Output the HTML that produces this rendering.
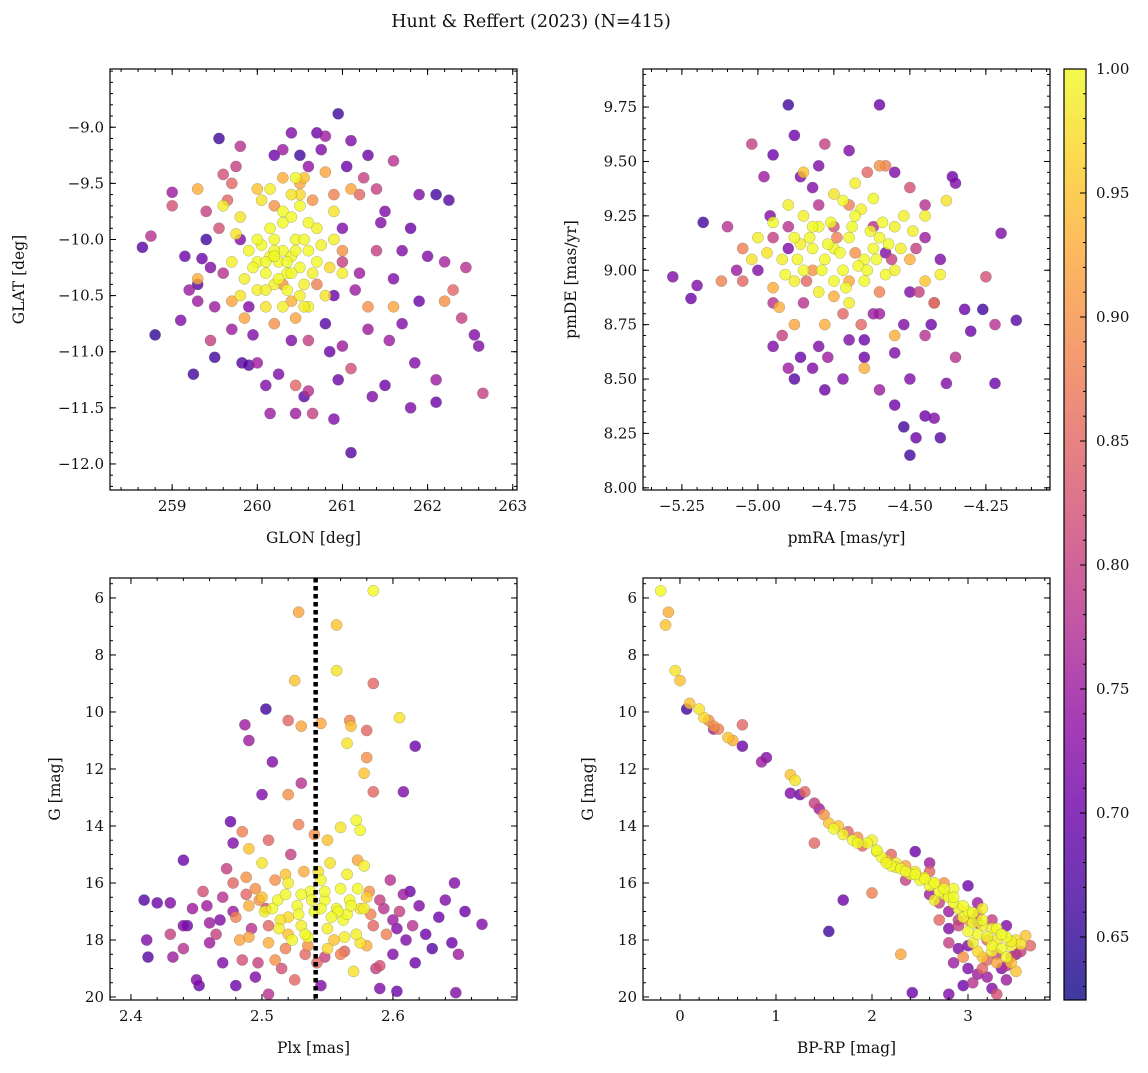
<!DOCTYPE html>
<html><head><meta charset="utf-8"><style>
html,body{margin:0;padding:0;background:#fff;}
svg text{font-family:"DejaVu Serif","Liberation Serif",serif;fill:#111;}
</style></head><body>
<svg id="fig" width="1148" height="1068" viewBox="0 0 1148 1068" xmlns="http://www.w3.org/2000/svg">
<text x="531" y="27" font-size="17.5" text-anchor="middle">Hunt &amp; Reffert (2023) (N=415)</text>
</svg>
<script>
// ---- Panel 1: GLON / GLAT / probability ----
const glon=[258.65,258.75,258.8,259.0,259.0,259.1,259.25,259.3,259.35,259.4,259.5,259.55,259.6,259.7,259.8,259.82,259.9,260.1,260.15,260.0,260.2,260.4,260.5,260.6,260.7,260.8,260.95,261.1,261.3,261.2,261.4,261.6,261.5,261.7,261.8,261.9,262.1,262.25,262.0,262.2,262.3,262.4,262.55,262.6,262.65,262.1,262.1,261.8,261.5,261.35,261.1,261.1,260.9,260.65,260.55,260.45,260.45,261.6,261.9,261.7,261.3,261.0,260.8,260.9,261.2,261.4,259.9,259.7,259.5,259.45,259.3,259.6,259.8,260.4,260.6,259.55,261.0,261.0,
259.3,259.3,259.7,259.85,260.0,260.2,260.3,260.5,260.65,260.8,260.9,261.1,261.0,260.7,260.2,260.45,261.3,261.6,262.2,260.4,260.3,260.55,
259.6,259.8,259.9,260.0,260.05,260.1,260.15,260.2,260.25,260.3,260.35,260.4,260.45,260.5,260.55,260.6,260.7,260.2,260.0,259.85,260.3,260.5,260.7,260.9,261.0,260.4,260.15,259.7,260.8,260.6,260.3,260.1,260.45,260.9,
259.2,259.4,259.65,259.95,260.6,260.85,261.15,261.45,261.25,261.05,260.75,260.3,259.75,259.45,259.15,261.55,261.85,262.45,260.95,260.25,
259.95,260.1,260.2,260.35,260.45,260.55,260.65,260.0,260.25,260.4,260.5,260.15,260.3,259.8,260.6,260.75,260.05,260.35,260.85,260.2,259.75,260.5,260.4,260.1,260.55];
const glat=[-10.07,-9.97,-10.85,-9.58,-9.7,-10.72,-11.2,-10.4,-10.17,-10.0,-11.05,-9.1,-9.42,-9.5,-9.17,-11.1,-11.12,-11.3,-11.55,-11.1,-9.25,-9.05,-9.25,-9.35,-9.05,-9.08,-8.88,-9.12,-9.25,-9.6,-9.55,-9.3,-9.75,-10.1,-9.9,-9.6,-9.6,-9.65,-10.15,-10.2,-10.45,-10.7,-10.85,-10.95,-11.37,-11.25,-11.45,-11.5,-11.3,-11.4,-11.9,-11.15,-11.6,-11.55,-11.4,-11.3,-11.55,-10.35,-10.55,-10.75,-10.8,-10.95,-10.75,-10.5,-10.3,-10.1,-10.6,-10.8,-10.6,-10.9,-10.55,-10.3,-10.0,-10.9,-10.9,-9.9,-10.2,-9.9,
-9.55,-10.35,-10.55,-10.7,-9.55,-9.7,-9.45,-9.5,-9.65,-9.4,-9.6,-9.55,-10.1,-10.4,-10.75,-10.7,-10.6,-10.6,-10.55,-10.55,-10.4,-9.45,
-9.7,-9.8,-10.1,-10.2,-10.05,-10.3,-10.15,-10.0,-10.2,-10.1,-10.3,-10.15,-10.0,-10.25,-10.4,-10.1,-10.2,-10.4,-10.45,-10.35,-9.85,-9.7,-9.9,-9.75,-10.3,-9.6,-9.55,-10.2,-10.5,-10.6,-10.6,-10.6,-9.45,-10.0,
-10.45,-9.75,-9.65,-10.85,-11.35,-11.0,-10.45,-9.85,-9.45,-9.35,-9.2,-9.2,-9.35,-10.25,-10.15,-10.9,-11.1,-10.25,-11.25,-11.2,
-10.25,-10.2,-10.1,-10.2,-10.1,-10.0,-10.3,-10.0,-10.35,-10.3,-10.5,-9.9,-9.75,-10.5,-9.85,-10.05,-9.65,-10.45,-10.25,-10.15,-9.95,-9.6,-9.8,-10.45,-10.6];
const prob1=[0.68,0.78,0.65,0.75,0.82,0.72,0.66,0.68,0.7,0.66,0.66,0.66,0.82,0.85,0.78,0.68,0.68,0.72,0.75,0.75,0.7,0.72,0.66,0.74,0.7,0.75,0.66,0.72,0.7,0.85,0.8,0.78,0.72,0.72,0.7,0.72,0.66,0.68,0.72,0.76,0.85,0.8,0.72,0.72,0.8,0.75,0.7,0.72,0.7,0.72,0.68,0.82,0.72,0.8,0.68,0.85,0.75,0.72,0.7,0.72,0.75,0.75,0.68,0.7,0.75,0.8,0.72,0.75,0.75,0.8,0.75,0.78,0.72,0.72,0.8,0.82,0.8,0.72,
0.93,0.93,0.92,0.92,0.95,0.9,0.93,0.92,0.9,0.92,0.88,0.92,0.9,0.88,0.9,0.92,0.9,0.92,0.9,0.93,0.9,0.95,
0.99,0.98,1,1,1,1,1,1,1,1,1,1,1,1,0.99,1,1,0.99,0.99,0.99,1,1,0.99,0.98,0.99,0.98,0.99,0.99,0.98,0.99,0.99,0.98,1,0.99,
0.75,0.8,0.85,0.72,0.78,0.7,0.75,0.72,0.8,0.7,0.72,0.75,0.8,0.72,0.7,0.75,0.72,0.78,0.7,0.72,
1,1,1,1,1,1,0.99,1,1,1,0.99,1,1,0.98,1,0.99,0.98,1,0.97,1,0.98,0.97,1,0.99,0.99];

// ---- Panel 2: pmRA / pmDE / probability ----
const pmra=[-5.28,-5.18,-5.2,-5.22,-5.1,-4.9,-4.88,-4.95,-4.86,-4.98,-5.0,-4.95,-4.9,-4.88,-4.82,-4.78,-4.72,-4.65,-4.6,-4.55,-4.52,-4.5,-4.48,-4.45,-4.42,-4.4,-4.38,-4.35,-4.3,-4.32,-4.26,-4.22,-4.22,-4.15,-4.2,-4.25,-4.35,-4.36,-4.45,-4.5,-4.55,-4.6,-4.7,-4.78,-4.82,-4.8,-5.02,-5.05,-4.95,-4.92,-4.8,-4.6,-4.55,-4.5,-4.45,-4.42,-4.5,-4.4,-4.45,-4.48,-4.7,-4.65,-4.85,-4.9,-4.95,-4.58,-4.62,-4.72,-4.75,-4.8,
-5.12,-5.05,-4.95,-4.93,-4.88,-4.85,-4.78,-4.75,-4.7,-4.65,-4.6,-4.58,-4.55,-4.5,-4.45,-4.42,-4.6,-4.82,-4.7,
-5.0,-4.95,-4.9,-4.92,-4.88,-4.85,-4.82,-4.8,-4.78,-4.75,-4.72,-4.7,-4.68,-4.65,-4.62,-4.6,-4.58,-4.55,-4.52,-4.7,-4.75,-4.65,-4.8,-4.85,-4.75,-4.68,-4.62,-4.45,-4.4,-4.38,-5.02,-4.88,-4.72,-4.55,-4.82,
-4.67,-4.63,-4.77,-4.73,-4.87,-4.57,-4.69,-4.83,-4.61,-4.79,-4.66,-4.91,-4.53,-4.76,-4.64,-4.86,-4.71,-4.59,-4.97,-4.49,
-4.68,-4.74,-4.84,-4.56,-4.9,-4.62,-4.47,-4.52,-4.77,-4.66,-5.07,-4.96,-4.43,-4.64,-4.86];
const pmde=[8.97,9.22,8.93,8.87,9.2,9.76,9.62,9.53,9.43,9.43,9.0,8.85,8.55,8.5,8.55,8.45,8.5,8.6,8.45,8.38,8.28,8.15,8.23,8.33,8.32,8.23,8.48,8.6,8.72,8.82,8.82,8.75,8.48,8.77,9.17,8.97,9.4,9.43,9.3,9.38,9.45,9.76,9.55,9.58,9.38,9.48,9.58,8.95,8.65,8.7,8.65,8.8,8.62,8.5,8.7,8.85,8.9,9.05,9.15,9.1,8.68,8.68,8.85,9.1,9.15,9.08,9.2,8.8,9.2,9.3,
8.95,9.1,8.92,8.83,8.75,9.45,8.75,8.88,8.95,8.55,9.48,9.48,8.7,9.05,8.95,8.85,8.9,9.0,9.3,
9.15,9.22,9.3,9.05,9.15,9.0,9.1,9.2,9.05,9.1,9.0,9.15,9.25,9.05,9.1,9.15,8.98,9.2,9.25,8.85,8.95,8.95,8.9,9.25,9.35,9.4,9.33,9.25,8.98,9.32,9.05,8.95,9.32,9.0,9.2,
9.02,9.18,9.12,9.08,9.05,9.12,9.2,9.15,9.05,9.0,9.28,8.98,9.1,9.22,9.0,9.12,8.92,9.22,9.08,9.18,
9.08,9.15,8.95,9.05,9.2,8.8,8.9,8.75,8.6,8.75,9.0,9.25,8.75,9.45,8.6];
const prob2=[0.72,0.66,0.72,0.7,0.78,0.66,0.7,0.7,0.72,0.75,0.72,0.78,0.75,0.68,0.72,0.7,0.72,0.7,0.75,0.7,0.66,0.66,0.7,0.7,0.72,0.68,0.72,0.78,0.7,0.7,0.66,0.78,0.7,0.68,0.72,0.82,0.72,0.7,0.78,0.82,0.72,0.7,0.72,0.8,0.72,0.72,0.8,0.85,0.72,0.8,0.72,0.75,0.72,0.72,0.78,0.72,0.72,0.72,0.75,0.8,0.72,0.7,0.78,0.72,0.8,0.72,0.78,0.85,0.82,0.78,
0.88,0.88,0.93,0.93,0.92,0.95,0.93,0.93,0.92,0.93,0.9,0.88,0.93,0.93,0.95,0.88,0.88,0.9,0.88,
0.99,1,0.99,0.99,1,1,1,1,1,1,1,1,1,1,1,1,1,0.99,0.99,0.99,1,1,0.99,0.99,0.98,0.99,1,0.99,0.99,0.98,0.98,0.99,1,0.99,1,
1,1,1,1,1,1,1,1,1,1,0.99,1,0.99,1,1,0.99,1,1,0.98,0.99,
0.9,0.88,0.85,0.8,0.78,0.75,0.8,0.72,0.75,0.85,0.75,0.72,0.7,0.85,0.7];

// ---- Panel 3: Plx / G / probability ----
const plx=[2.585,2.528,2.557,2.557,2.525,2.503,2.585,2.52,2.53,2.545,2.567,2.568,2.605,2.58,2.565,2.487,2.49,2.508,2.617,2.58,2.578,2.53,2.5,2.52,2.585,2.608,2.476,2.485,2.478,2.54,2.55,2.572,2.575,2.528,2.56,2.49,2.505,2.44,
2.41,2.42,2.43,2.412,2.413,2.43,2.432,2.44,2.443,2.447,2.45,2.452,2.44,2.455,2.46,2.465,2.47,2.473,2.478,2.48,2.483,2.485,2.488,2.49,2.492,2.495,2.497,2.5,2.5,2.502,2.505,2.505,2.51,2.512,2.514,2.515,2.518,2.52,2.52,2.522,2.525,2.527,2.53,2.532,2.535,2.537,2.54,2.542,2.545,2.545,2.548,2.55,2.552,2.555,2.557,2.56,2.56,2.562,2.565,2.567,2.57,2.572,2.575,2.578,2.58,2.582,2.585,2.587,2.59,2.59,2.595,2.598,2.6,2.6,2.603,2.605,2.608,2.61,2.615,2.617,2.62,2.625,2.63,2.635,2.64,2.645,2.647,2.65,2.648,2.655,2.668,2.48,2.47,2.46,2.495,2.505,2.535,2.545,2.565,2.53,2.55,2.575,2.52,2.58,2.51,2.59,2.49,
2.508,2.518,2.528,2.538,2.548,2.558,2.568,2.578,2.513,2.523,2.533,2.543,2.553,2.563,2.573,2.498,2.488,2.583,2.593,2.478,2.468,2.603,2.613,2.458,2.533,2.548,2.563,2.518,2.503,2.573];
const gmag3=[5.75,6.5,6.95,8.55,8.9,9.9,9.0,10.3,10.5,10.4,10.3,10.5,10.2,10.65,11.1,10.45,11.0,11.75,11.2,11.6,12.15,12.5,12.9,12.9,12.8,12.8,13.85,14.2,14.6,14.3,14.5,13.8,14.15,13.95,14.05,14.8,14.5,15.2,
16.6,16.7,16.7,18.0,18.6,17.8,18.6,17.5,17.5,16.9,19.4,19.6,18.3,16.3,17.4,17.8,16.5,15.5,16.0,17.2,18.0,18.7,15.8,16.8,17.6,19.3,18.8,15.3,16.5,17.0,18.1,19.9,15.9,16.6,17.3,19.0,18.3,16.0,17.8,15.0,19.4,16.8,17.5,15.6,18.2,16.3,17.0,18.8,15.9,19.6,16.6,17.6,15.3,18.0,16.9,16.2,18.5,17.3,15.7,16.6,19.1,17.8,16.9,15.4,18.2,16.3,17.5,19.0,16.6,19.7,17.8,15.9,17.3,18.5,19.8,17.0,16.4,18.0,17.5,18.8,16.8,17.8,18.3,17.2,16.6,18.1,16.0,18.5,19.85,17.0,17.45,19.6,18.8,18.1,16.2,17.5,17.9,16.9,17.1,16.4,18.3,18.1,17.2,16.5,18.7,18.9,17.9,
16.9,16.4,17.1,16.6,16.3,17.0,16.8,16.9,17.6,18.0,17.8,15.6,17.2,17.9,16.2,16.6,16.4,17.1,16.9,17.0,17.3,17.6,16.3,16.8,18.5,18.6,18.4,15.7,16.9,15.2];
const prob3=[1,0.92,0.95,0.98,0.95,0.66,0.85,0.85,0.92,0.92,0.88,0.95,0.98,0.85,0.98,0.75,0.75,0.72,0.7,0.9,0.95,0.78,0.72,0.9,0.85,0.72,0.7,0.88,0.72,0.9,0.95,1,1,0.88,0.98,0.95,0.85,0.7,
0.68,0.7,0.72,0.72,0.68,0.8,0.75,0.72,0.7,0.75,0.72,0.7,0.78,0.82,0.75,0.8,0.78,0.8,0.85,0.88,0.92,0.82,0.9,0.93,0.78,0.72,0.8,0.98,0.95,1,0.93,0.78,0.9,1,0.98,0.82,0.88,0.99,0.95,0.8,0.85,1,0.99,0.93,0.9,1,1,0.85,1,0.72,1,0.99,0.98,0.95,1,1,0.88,1,0.99,1,0.98,0.99,0.98,0.99,0.93,0.9,0.85,0.8,0.8,0.72,0.88,0.78,0.75,0.72,0.7,0.8,0.75,0.72,0.78,0.7,0.72,0.7,0.68,0.7,0.72,0.7,0.72,0.75,0.72,0.7,0.72,0.7,0.72,0.75,0.9,0.85,1,1,1,1,0.97,0.98,0.97,0.96,0.9,0.82,0.92,
1,1,1,1,1,1,1,0.99,0.99,1,1,0.98,1,0.99,1,0.9,0.85,0.88,0.78,0.75,0.72,0.72,0.7,0.75,0.85,0.8,0.85,0.95,0.82,0.92];
const plxRef=[2.541];

// ---- Panel 4: BP-RP / G / probability ----
const bprp=[-0.2,-0.12,-0.15,-0.05,0,0.1,0.07,0.2,0.25,0.3,0.35,0.4,0.35,0.5,0.55,0.65,0.65,0.85,0.9,1.15,1.2,1.15,1.25,1.3,1.4,1.45,1.5,1.55,1.4,1.6,1.65,1.7,1.75,1.8,1.85,1.9,1.95,2.0,2.05,1.7,1.55,2.0,2.1,2.15,2.2,2.2,2.25,2.3,2.35,2.4,2.45,2.45,2.5,2.55,2.6,2.6,2.65,2.7,2.75,2.75,2.8,2.85,2.9,2.95,3.0,3.05,3.1,3.15,3.2,3.25,3.3,3.35,3.4,3.45,3.5,3.6,3.65,2.7,2.8,2.9,3.0,3.1,3.0,3.05,3.1,3.15,3.2,3.25,3.3,3.0,2.95,3.05,3.35,3.4,3.45,3.5,3.2,3.3,2.9,2.85,2.95,3.1,3.25,3.4,3.55,2.42,2.8,2.3,2.6,2.35,2.7,2.8,3.3,3.15,2.85,2.65,3.4,3.5,
2.15,2.35,2.55,2.75,2.95,3.15,3.35,3.55,2.25,2.45,2.65,2.85,3.05,3.25,3.45,1.85,2.05,2.9,3.1,3.3,3.2,3.0,3.4,3.1,2.8,3.25,3.45,3.0,3.15,2.6];
const gmag4=[5.75,6.5,6.95,8.55,8.9,9.7,9.9,9.9,10.2,10.3,10.5,10.6,10.6,10.9,11.0,11.2,10.45,11.75,11.6,12.2,12.4,12.85,12.9,12.8,13.2,13.4,13.6,13.9,14.6,14.1,14.0,14.3,14.2,14.5,14.4,14.7,14.6,14.5,14.9,16.6,17.7,16.35,15.1,15.2,15.0,15.4,15.3,15.5,15.4,15.7,15.6,14.9,15.9,15.8,16.1,15.6,16.0,16.3,16.4,16.0,16.5,16.7,16.9,17.2,17.0,17.4,17.8,17.5,17.9,18.2,18.0,18.3,17.9,18.2,18.0,17.85,18.2,16.7,17.0,17.3,16.1,16.7,17.7,18.1,18.4,19.0,19.3,19.7,19.9,19.0,19.6,19.5,19.0,19.4,18.6,18.5,18.7,18.8,18.3,18.8,18.6,17.1,17.3,17.5,18.4,19.85,19.9,18.5,15.3,15.9,17.3,17.6,17.6,16.9,16.2,16.6,18.6,19.1,
15.3,15.6,15.85,16.2,16.8,17.3,17.8,18.15,15.45,15.7,16.0,16.5,17.05,17.6,18.05,14.6,14.85,17.5,17.4,18.5,18.0,18.2,18.9,19.2,18.1,18.4,18.8,17.3,18.6,16.4];
const prob4=[1,0.93,0.95,0.98,0.95,0.95,0.66,0.98,0.97,0.9,0.9,0.88,0.75,0.95,0.93,0.7,0.85,0.75,0.72,0.95,0.98,0.72,0.7,0.85,0.8,0.75,0.9,0.95,0.85,1,0.95,0.99,0.85,1,0.9,0.85,1,0.99,1,0.7,0.66,0.88,1,0.95,0.85,1,0.99,1,0.92,1,0.99,0.7,1,0.98,1,0.85,0.98,1,0.99,0.9,1,1,0.99,1,1,1,1,0.99,1,1,0.98,1,1,0.99,0.98,0.95,0.85,0.8,0.75,0.8,0.7,0.75,1,0.99,0.97,0.85,0.75,0.72,0.82,0.72,0.7,0.78,0.72,0.75,0.8,0.75,0.85,0.92,0.72,0.75,0.9,0.85,0.8,0.72,0.8,0.7,0.72,0.92,0.75,0.8,0.85,0.72,1,0.99,1,0.99,1,0.95,
1,1,1,1,1,1,1,0.98,0.99,1,1,1,1,0.99,0.99,1,1,0.8,0.75,0.8,0.85,0.72,0.78,0.75,0.8,0.99,0.95,0.9,0.95,0.75];

// ---- Colorbar ----
const cbTicks=[0.65,0.70,0.75,0.80,0.85,0.90,0.95,1.00];
const cbMin=0.6246, cbMax=1.0;

const NS="http://www.w3.org/2000/svg";
const svg=document.getElementById('fig');
function mk(tag,attrs,parent){const e=document.createElementNS(NS,tag);for(const k in attrs)e.setAttribute(k,attrs[k]);(parent||svg).appendChild(e);return e;}
const stops=[[0,'#0d0887'],[0.1,'#41049d'],[0.2,'#6a00a8'],[0.3,'#8f0da4'],[0.4,'#b12a90'],[0.5,'#cc4778'],[0.6,'#e16462'],[0.7,'#f2844b'],[0.8,'#fca636'],[0.9,'#fcce25'],[1,'#f0f921']];
function hex(h){return [1,3,5].map(i=>parseInt(h.substr(i,2),16));}
function plasma(t){t=Math.max(0,Math.min(1,t));for(let i=1;i<stops.length;i++){if(t<=stops[i][0]){const a=stops[i-1],b=stops[i];const f=(t-a[0])/(b[0]-a[0]);const ca=hex(a[1]),cb=hex(b[1]);return 'rgb('+ca.map((v,j)=>Math.round(v+(cb[j]-v)*f)).join(',')+')';}}return stops[stops.length-1][1];}
function colorOf(p){return plasma((p-cbMin)/(cbMax-cbMin));}
function fmt(v,d){const s=Math.abs(v).toFixed(d);return (v<-1e-9?'\u2212':'')+s;}

function panel(o){
  const g=mk('g',{});
  
  
  const X=v=>o.x0+(v-o.xmin)/(o.xmax-o.xmin)*(o.x1-o.x0);
  const Y=o.yinv?(v=>o.y0+(v-o.ymin)/(o.ymax-o.ymin)*(o.y1-o.y0)):(v=>o.y1-(v-o.ymin)/(o.ymax-o.ymin)*(o.y1-o.y0));
  const clip='c'+o.name;
  const cp=mk('clipPath',{id:clip},g);mk('rect',{x:o.x0,y:o.y0,width:o.x1-o.x0,height:o.y1-o.y0},cp);
  const pts=mk('g',{'clip-path':'url(#'+clip+')'},g);
  
  
  const idx=o.xs.map((_,i)=>i).sort((a,b)=>o.ps[a]-o.ps[b]);
  idx.forEach(i=>{const c=mk('circle',{cx:X(o.xs[i]).toFixed(1),cy:Y(o.ys[i]).toFixed(1),r:5.6,fill:colorOf(o.ps[i]),'fill-opacity':0.8,stroke:'#666','stroke-opacity':0.5,'stroke-width':0.5},pts);
    
    });
  if(o.vline){o.vline.forEach(v=>{const l=mk('line',{x1:X(v),x2:X(v),y1:o.y0,y2:o.y1,stroke:'#000','stroke-width':4.5,'stroke-dasharray':'4.5,3.5'},g);
    
    });}
  const fr=mk('rect',{x:o.x0,y:o.y0,width:o.x1-o.x0,height:o.y1-o.y0,fill:'none',stroke:'#000','stroke-width':1.2},g);
  
  
  const tk=mk('g',{stroke:'#000','stroke-width':1},g);
  const eps=1e-9;
  for(let v=Math.ceil(o.xmin/o.xminor)*o.xminor;v<=o.xmax+eps;v+=o.xminor){const x=X(v);mk('line',{x1:x,x2:x,y1:o.y1,y2:o.y1-3},tk);mk('line',{x1:x,x2:x,y1:o.y0,y2:o.y0+3},tk);}
  for(let v=Math.ceil(o.ymin/o.yminor)*o.yminor;v<=o.ymax+eps;v+=o.yminor){const y=Y(v);mk('line',{x1:o.x0,x2:o.x0+3,y1:y,y2:y},tk);mk('line',{x1:o.x1,x2:o.x1-3,y1:y,y2:y},tk);}
  o.xticks.forEach(v=>{const x=X(v);mk('line',{x1:x,x2:x,y1:o.y1,y2:o.y1-6},tk);mk('line',{x1:x,x2:x,y1:o.y0,y2:o.y0+6},tk);
    const t=mk('text',{x:x,y:o.y1+21,'font-size':15,'text-anchor':'middle'},g);t.textContent=fmt(v,o.xd);
    
    });
  o.yticks.forEach(v=>{const y=Y(v);mk('line',{x1:o.x0,x2:o.x0+6,y1:y,y2:y},tk);mk('line',{x1:o.x1,x2:o.x1-6,y1:y,y2:y},tk);
    const t=mk('text',{x:o.x0-6,y:y+5,'font-size':15,'text-anchor':'end'},g);t.textContent=fmt(v,o.yd);
    
    });
  const xl=mk('text',{x:(o.x0+o.x1)/2,y:o.y1+53,'font-size':15.5,'text-anchor':'middle'},g);xl.textContent=o.xlabel;
  
  
  const cy=(o.y0+o.y1)/2;
  const yl=mk('text',{x:o.ylx,y:cy,'font-size':15.5,'text-anchor':'middle',transform:'rotate(-90 '+o.ylx+' '+cy+')'},g);yl.textContent=o.ylabel;
  
  
}

panel({name:'glon-glat-panel',x0:110,x1:517,y0:69,y1:490,xmin:258.27,xmax:263.05,ymin:-12.232,ymax:-8.481,xs:glon,ys:glat,ps:prob1,
  xticks:[259,260,261,262,263],yticks:[-12,-11.5,-11,-10.5,-10,-9.5,-9],xminor:0.2,yminor:0.1,xd:0,yd:1,xlabel:'GLON [deg]',ylabel:'GLAT [deg]',ylx:24});
panel({name:'pm-panel',x0:643,x1:1050,y0:69,y1:490,xmin:-5.378,xmax:-4.039,ymin:7.99,ymax:9.925,xs:pmra,ys:pmde,ps:prob2,
  xticks:[-5.25,-5,-4.75,-4.5,-4.25],yticks:[8,8.25,8.5,8.75,9,9.25,9.5,9.75],xminor:0.05,yminor:0.05,xd:2,yd:2,xlabel:'pmRA [mas/yr]',ylabel:'pmDE [mas/yr]',ylx:576});
panel({name:'plx-g-panel',x0:110,x1:517,y0:578,y1:1000,xmin:2.384,xmax:2.6947,ymin:5.30,ymax:20.105,yinv:true,xs:plx,ys:gmag3,ps:prob3,vline:plxRef,
  xticks:[2.4,2.5,2.6],yticks:[6,8,10,12,14,16,18,20],xminor:0.02,yminor:0.5,xd:1,yd:0,xlabel:'Plx [mas]',ylabel:'G [mag]',ylx:60});
panel({name:'cmd-panel',x0:643,x1:1050,y0:578,y1:1000,xmin:-0.385,xmax:3.854,ymin:5.30,ymax:20.105,yinv:true,xs:bprp,ys:gmag4,ps:prob4,
  xticks:[0,1,2,3],yticks:[6,8,10,12,14,16,18,20],xminor:0.2,yminor:0.5,xd:0,yd:0,xlabel:'BP-RP [mag]',ylabel:'G [mag]',ylx:593});

(function(){
  const x0=1064,x1=1086,y0=69,y1=1000;
  const g=mk('g',{});
  
  
  const defs=mk('defs',{},g);
  const lg=mk('linearGradient',{id:'cbg',x1:0,y1:1,x2:0,y2:0},defs);
  stops.forEach(s=>mk('stop',{offset:s[0],'stop-color':s[1],'stop-opacity':0.8},lg));
  mk('rect',{x:x0,y:y0,width:x1-x0,height:y1-y0,fill:'url(#cbg)',stroke:'#000','stroke-width':1.2},g);
  const Y=v=>y1-(v-cbMin)/(cbMax-cbMin)*(y1-y0);
  for(let v=0.63;v<=1.0001;v+=0.01){const y=Y(v);mk('line',{x1:x1,x2:x1-3,y1:y,y2:y,stroke:'#000'},g);}
  cbTicks.forEach(v=>{const y=Y(v);mk('line',{x1:x1,x2:x1-6,y1:y,y2:y,stroke:'#000'},g);
    const t=mk('text',{x:x1+10,y:y+5,'font-size':15},g);t.textContent=v.toFixed(2);
    
    });
})();
</script>
</body></html>
